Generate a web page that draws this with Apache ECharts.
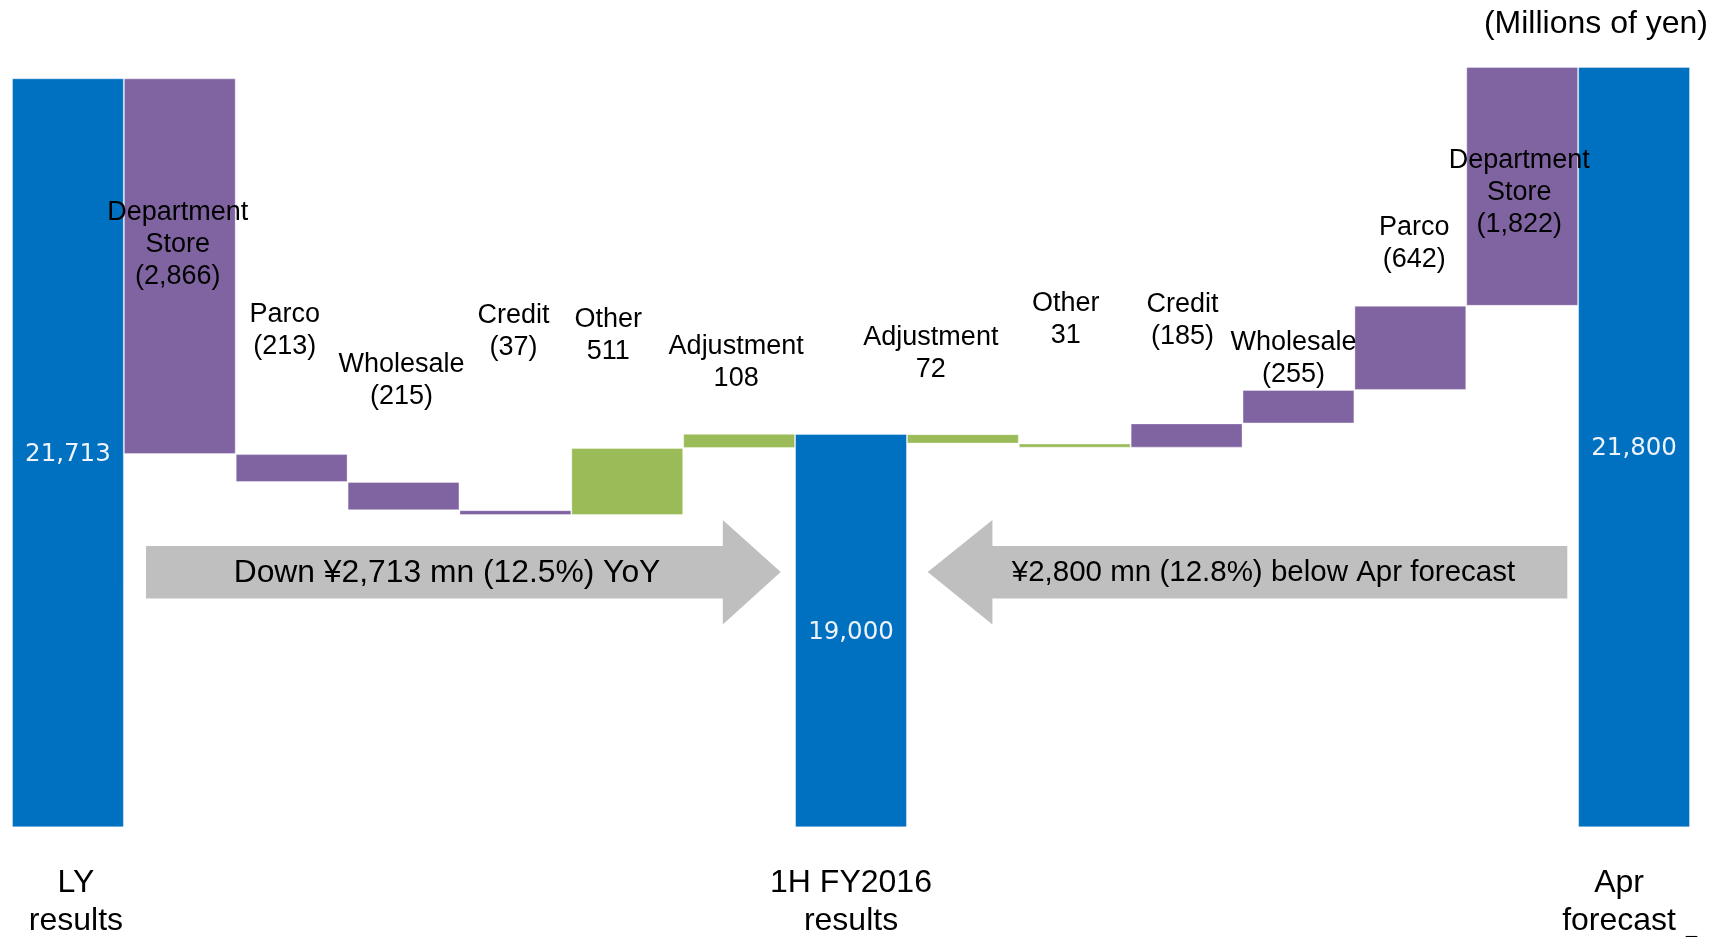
<!DOCTYPE html>
<html>
<head>
<meta charset="utf-8">
<title>Operating income bridge</title>
<script src="https://cdn.jsdelivr.net/npm/echarts@6/dist/echarts.min.js"></script>
<style>
  html, body { margin: 0; padding: 0; background: #fff; }
  #chart { width: 1720px; height: 937px; }
</style>
</head>
<body>
<div id="chart"></div>
<script>
// totals (millions of yen)
const lyTotal = 21713
const halfTotal = 19000
const aprTotal = 21800
const axisFloor = 16000

// LY -> 1H steps
const leftNames = ['Department\nStore', 'Parco', 'Wholesale', 'Credit', 'Other', 'Adjustment']
const leftChanges = [-2866, -213, -215, -37, 511, 108]

// 1H vs Apr forecast steps (chained right to left from the forecast)
const rightNames = ['Adjustment', 'Other', 'Credit', 'Wholesale', 'Parco', 'Department\nStore']
const rightChanges = [72, 31, -185, -255, -642, -1822]

const axisTexts = ['LY\nresults', '1H FY2016\nresults', 'Apr\nforecast']

// label placement relative to each step bar: [dx from centre, dy from bar top] in px
const leftLabelPos = [[-2, 166], [-7, -124], [-2, -101], [-2, -179], [-19, -112], [-3, -71]]
const rightLabelPos = [[-32, -81], [-9, -124], [-4, -103], [-5, -31.5], [4, -62], [-3, 126]]

const BLUE = '#0070C0'
const PURPLE = '#8064A2'
const GREEN = '#9BBB59'
const FONT = 'Liberation Sans, Arial, sans-serif'
const HALF_BAR = (1720 - 12 - 30) / 15 / 2

const fmt = (v) => {
  const s = Math.abs(v).toLocaleString('en-US')
  return v < 0 ? '(' + s + ')' : s
}

// stacked pieces: transparent base + visible part
const cats = []
const base = []
const shown = []

const addTotal = (name, v) => {
  cats.push(name)
  base.push(axisFloor)
  shown.push({
    value: v - axisFloor,
    itemStyle: { color: BLUE },
    label: {
      show: true, position: 'inside', offset: [0, 2], formatter: fmt(v),
      color: '#eef3fb', fontSize: 24.5, fontFamily: 'DejaVu Sans'
    }
  })
}
const stepItem = (a, b, change, name, pos) => ({
  value: Math.abs(b - a),
  itemStyle: { color: change < 0 ? PURPLE : GREEN },
  label: {
    show: true, position: [HALF_BAR + pos[0], pos[1]], align: 'center', verticalAlign: 'middle',
    formatter: name + '\n' + fmt(change),
    color: '#000', fontSize: 27, lineHeight: 32, fontFamily: FONT
  }
})

addTotal(axisTexts[0], lyTotal)
let level = lyTotal
leftChanges.forEach((c, i) => {
  const next = level + c
  cats.push(leftNames[i].replace('\n', ' '))
  base.push(Math.min(level, next))
  shown.push(stepItem(level, next, c, leftNames[i], leftLabelPos[i]))
  level = next
})
addTotal(axisTexts[1], halfTotal)

const rightBase = []
const rightShown = []
level = aprTotal
for (let i = rightChanges.length - 1; i >= 0; i--) {
  const next = level + rightChanges[i]
  rightBase[i] = Math.min(level, next)
  rightShown[i] = stepItem(level, next, rightChanges[i], rightNames[i], rightLabelPos[i])
  level = next
}
rightNames.forEach((n, i) => {
  cats.push(n.replace('\n', ' ')); base.push(rightBase[i]); shown.push(rightShown[i])
})
addTotal(axisTexts[2], aprTotal)

const xData = cats.map((c, i) => {
  if (i === 0) return { value: c, textStyle: { padding: [0, 0, 0, 16] } }
  if (i === cats.length - 1) return { value: c, textStyle: { padding: [0, 30, 0, 0] } }
  return c
})

const chart = echarts.init(document.getElementById('chart'))
chart.setOption({
  animation: false,
  grid: { left: 12, right: 30, top: 40.7, bottom: 109.7, outerBoundsMode: 'none', containLabel: false },
  xAxis: {
    type: 'category',
    data: xData,
    axisLine: { show: false },
    axisTick: { show: false },
    axisLabel: {
      interval: 0, margin: 36.7,
      formatter: (v) => (axisTexts.includes(v) ? v : ''),
      color: '#000', fontSize: 32, lineHeight: 38, fontFamily: FONT
    }
  },
  yAxis: { type: 'value', min: axisFloor, max: 22000, show: false },
  series: [
    {
      type: 'bar', stack: 'w', barCategoryGap: '0%',
      itemStyle: { color: 'transparent' },
      data: base, silent: true
    },
    {
      type: 'bar', stack: 'w', barCategoryGap: '0%',
      itemStyle: { borderColor: 'rgba(255,255,255,0.35)', borderWidth: 1 },
      data: shown
    }
  ],
  graphic: [
    {
      type: 'text', right: 12, top: 8,
      style: { text: '(Millions of yen)', fill: '#000', fontSize: 32, fontFamily: FONT }
    },
    {
      type: 'text', left: 1686, top: 917,
      style: { text: '_', fill: '#000', fontSize: 20, fontFamily: FONT }
    },
    {
      type: 'polygon',
      shape: { points: [[146, 546], [722.8, 546], [722.8, 520], [780.7, 572], [722.8, 624.5], [722.8, 598.5], [146, 598.5]] },
      style: { fill: '#BFBFBF' }
    },
    {
      type: 'text', x: 447, y: 573,
      style: { text: 'Down ¥2,713 mn (12.5%) YoY', fill: '#000', fontSize: 31.8, fontFamily: FONT, align: 'center', verticalAlign: 'middle' }
    },
    {
      type: 'polygon',
      shape: { points: [[1567.3, 546], [992.4, 546], [992.4, 520], [927.7, 572], [992.4, 624.5], [992.4, 598.5], [1567.3, 598.5]] },
      style: { fill: '#BFBFBF' }
    },
    {
      type: 'text', x: 1263.5, y: 573,
      style: { text: '¥2,800 mn (12.8%) below Apr forecast', fill: '#000', fontSize: 29.5, fontFamily: FONT, align: 'center', verticalAlign: 'middle' }
    }
  ]
})
</script>
</body>
</html>
